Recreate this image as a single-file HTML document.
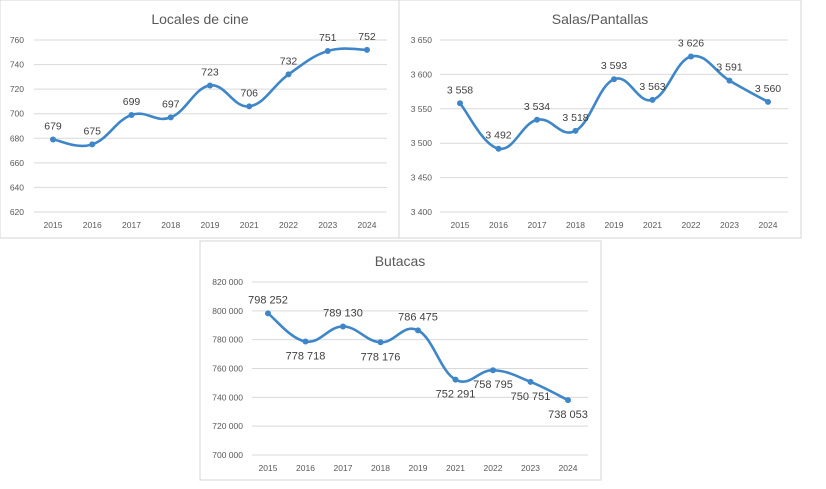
<!DOCTYPE html>
<html><head><meta charset="utf-8"><style>
body{margin:0;background:#fff;width:826px;height:489px;overflow:hidden;font-family:"Liberation Sans",sans-serif}
svg{position:absolute;left:0;top:0}
</style></head><body>
<svg id="s" width="826" height="489">
<rect x="0" y="0" width="401" height="238" fill="#fff" stroke="#d4d4d4"/>
<rect x="399" y="0" width="402" height="238" fill="#fff" stroke="#d4d4d4"/>
<rect x="200" y="241" width="401" height="239" fill="#fff" stroke="#d4d4d4"/>
</svg>
<script>
const categories=["2015","2016","2017","2018","2019","2021","2022","2023","2024"];
const localesValues=[679,675,699,697,723,706,732,751,752];
const localesTicks=[620,640,660,680,700,720,740,760];
const salasValues=[3558,3492,3534,3518,3593,3563,3626,3591,3560];
const salasTicks=[3400,3450,3500,3550,3600,3650];
const butacasValues=[798252,778718,789130,778176,786475,752291,758795,750751,738053];
const butacasTicks=[700000,720000,740000,760000,780000,800000,820000];
const butacasLabelBelow=[0,1,0,1,0,1,1,1,1];

const NS="http://www.w3.org/2000/svg";
const svg=document.getElementById('s');
function mk(t,a){const e=document.createElementNS(NS,t);for(const k in a)e.setAttribute(k,a[k]);svg.appendChild(e);return e;}
function fmt(v){return String(v).replace(/\B(?=(\d{3})+(?!\d))/g,' ');}
function chart(c){
  const {key,title,vals,ticks,x0,x1,gx0,gx1,yTop,yBot,tx,cx,below}=c;
  const min=ticks[0],max=ticks[ticks.length-1];
  const ys=v=>yBot-(v-min)/(max-min)*(yBot-yTop);
  const xs=i=>x0+i*(x1-x0)/(categories.length-1);
  let t=mk('text',{x:cx,y:yTop-16,'text-anchor':'middle','font-size':14,fill:'#595959'});
  t.textContent=title;
  
  
  ticks.forEach(v=>{
    const l=mk('line',{x1:gx0,x2:gx1,y1:ys(v),y2:ys(v),stroke:'#d9d9d9','stroke-width':1});
    
    
    const tt=mk('text',{x:tx,y:ys(v)+3,'text-anchor':'end','font-size':8.5,fill:'#595959'});
    tt.textContent=fmt(v);
    
    
  });
  categories.forEach((cat,i)=>{
    const tt=mk('text',{x:xs(i),y:yBot+16,'text-anchor':'middle','font-size':8.5,fill:'#595959'});
    tt.textContent=cat;
    
    
  });
  const P=vals.map((v,i)=>[xs(i),ys(v)]);
  let d='M'+P[0][0]+','+P[0][1];
  for(let i=0;i<P.length-1;i++){
    const p0=P[Math.max(0,i-1)],p1=P[i],p2=P[i+1],p3=P[Math.min(P.length-1,i+2)];
    const k=0.2;
    d+=' C'+(p1[0]+(p2[0]-p0[0])*k)+','+(p1[1]+(p2[1]-p0[1])*k)+' '+(p2[0]-(p3[0]-p1[0])*k)+','+(p2[1]-(p3[1]-p1[1])*k)+' '+p2[0]+','+p2[1];
  }
  const path=mk('path',{d:d,fill:'none',stroke:'#3f86c8','stroke-width':2.6,'stroke-linecap':'round'});
  
  
  P.forEach((p,i)=>{
    const c2=mk('circle',{cx:p[0],cy:p[1],r:3,fill:'#3f86c8'});
    
    
    const b=below&&below[i];
    const lt=mk('text',{x:p[0],y:b?p[1]+18:p[1]-10,'text-anchor':'middle','font-size':c.lfs||10.5,fill:'#404040'});
    lt.textContent=fmt(vals[i]);
    
    
  });
}
chart({key:'locales',title:'Locales de cine',vals:localesValues,ticks:localesTicks,x0:53,x1:367,gx0:34,gx1:387,yTop:40,yBot:212,tx:24,cx:200});
chart({key:'salas',title:'Salas/Pantallas',vals:salasValues,ticks:salasTicks,x0:460,x1:768,gx0:440,gx1:788,yTop:40,yBot:212,tx:432,cx:600});
chart({key:'butacas',title:'Butacas',vals:butacasValues,ticks:butacasTicks,x0:268,x1:568,gx0:252,gx1:588,yTop:282,yBot:455,tx:243,cx:400,below:butacasLabelBelow,lfs:11});
</script>
</body></html>
